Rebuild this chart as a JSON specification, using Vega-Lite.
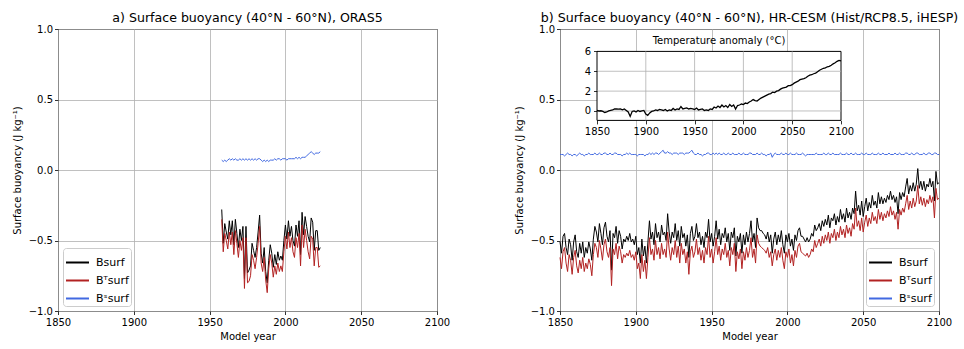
{
"$schema": "https://vega.github.io/schema/vega-lite/v6.json",
"padding": {"left": 11, "top": 11, "right": 0, "bottom": 0},
"bounds": "flush",
"spacing": 123,
"config": {
 "font": "DejaVu Sans",
 "view": {"stroke": "black", "strokeWidth": 1},
 "title": {"fontSize": 12.6, "fontWeight": "normal", "font": "DejaVu Sans", "color": "black", "offset": -0.5, "anchor": "middle"},
 "axis": {"labelFont": "DejaVu Sans", "labelFontSize": 10, "labelColor": "black", "titleFont": "DejaVu Sans", "titleFontSize": 10, "titleFontWeight": "normal", "titleColor": "black", "tickColor": "black", "tickSize": 3.5, "tickWidth": 0.8, "domain": false, "gridColor": "#b0b0b0", "gridWidth": 0.8, "labelPadding": 3, "titlePadding": 4, "labelFlush": false, "labelOverlap": false},
 "axisY": {"labelPadding": 2, "titlePadding": 6},
 "legend": {"symbolType": "stroke", "symbolStrokeWidth": 2, "symbolSize": 529, "labelFont": "DejaVu Sans", "labelFontSize": 11, "labelColor": "black", "strokeColor": "#cccccc", "fillColor": "white", "padding": 2, "cornerRadius": 3, "rowPadding": -5, "offset": 5, "labelOffset": 6}
},
"datasets": {
 "oras": [
{"yr":1958,"T":-0.35,"S":0.07,"B":-0.28},{"yr":1959,"T":-0.58,"S":0.06,"B":-0.52},{"yr":1960,"T":-0.45,"S":0.07,"B":-0.38},{"yr":1961,"T":-0.50,"S":0.06,"B":-0.44},{"yr":1962,"T":-0.56,"S":0.07,"B":-0.49},{"yr":1963,"T":-0.44,"S":0.08,"B":-0.36},{"yr":1964,"T":-0.53,"S":0.07,"B":-0.46},{"yr":1965,"T":-0.44,"S":0.08,"B":-0.36},{"yr":1966,"T":-0.60,"S":0.07,"B":-0.53},{"yr":1967,"T":-0.43,"S":0.08,"B":-0.35},{"yr":1968,"T":-0.52,"S":0.07,"B":-0.45},{"yr":1969,"T":-0.62,"S":0.07,"B":-0.55},{"yr":1970,"T":-0.50,"S":0.08,"B":-0.42},{"yr":1971,"T":-0.57,"S":0.07,"B":-0.50},{"yr":1972,"T":-0.48,"S":0.08,"B":-0.40},{"yr":1973,"T":-0.84,"S":0.07,"B":-0.77},{"yr":1974,"T":-0.48,"S":0.08,"B":-0.40},{"yr":1975,"T":-0.80,"S":0.07,"B":-0.73},{"yr":1976,"T":-0.79,"S":0.08,"B":-0.71},{"yr":1977,"T":-0.75,"S":0.07,"B":-0.68},{"yr":1978,"T":-0.60,"S":0.08,"B":-0.52},{"yr":1979,"T":-0.64,"S":0.07,"B":-0.57},{"yr":1980,"T":-0.70,"S":0.08,"B":-0.62},{"yr":1981,"T":-0.62,"S":0.07,"B":-0.55},{"yr":1982,"T":-0.52,"S":0.08,"B":-0.44},{"yr":1983,"T":-0.40,"S":0.08,"B":-0.32},{"yr":1984,"T":-0.66,"S":0.07,"B":-0.59},{"yr":1985,"T":-0.72,"S":0.06,"B":-0.66},{"yr":1986,"T":-0.62,"S":0.07,"B":-0.55},{"yr":1987,"T":-0.78,"S":0.06,"B":-0.72},{"yr":1988,"T":-0.87,"S":0.07,"B":-0.80},{"yr":1989,"T":-0.70,"S":0.06,"B":-0.64},{"yr":1990,"T":-0.60,"S":0.07,"B":-0.53},{"yr":1991,"T":-0.66,"S":0.07,"B":-0.59},{"yr":1992,"T":-0.76,"S":0.07,"B":-0.69},{"yr":1993,"T":-0.68,"S":0.08,"B":-0.60},{"yr":1994,"T":-0.74,"S":0.07,"B":-0.67},{"yr":1995,"T":-0.66,"S":0.08,"B":-0.58},{"yr":1996,"T":-0.72,"S":0.08,"B":-0.64},{"yr":1997,"T":-0.68,"S":0.07,"B":-0.61},{"yr":1998,"T":-0.72,"S":0.08,"B":-0.64},{"yr":1999,"T":-0.58,"S":0.08,"B":-0.50},{"yr":2000,"T":-0.47,"S":0.08,"B":-0.39},{"yr":2001,"T":-0.56,"S":0.07,"B":-0.49},{"yr":2002,"T":-0.44,"S":0.08,"B":-0.36},{"yr":2003,"T":-0.55,"S":0.08,"B":-0.47},{"yr":2004,"T":-0.48,"S":0.08,"B":-0.40},{"yr":2005,"T":-0.58,"S":0.08,"B":-0.50},{"yr":2006,"T":-0.62,"S":0.08,"B":-0.54},{"yr":2007,"T":-0.48,"S":0.09,"B":-0.39},{"yr":2008,"T":-0.55,"S":0.08,"B":-0.47},{"yr":2009,"T":-0.45,"S":0.09,"B":-0.36},{"yr":2010,"T":-0.68,"S":0.08,"B":-0.60},{"yr":2011,"T":-0.39,"S":0.09,"B":-0.30},{"yr":2012,"T":-0.55,"S":0.09,"B":-0.46},{"yr":2013,"T":-0.42,"S":0.09,"B":-0.33},{"yr":2014,"T":-0.50,"S":0.10,"B":-0.40},{"yr":2015,"T":-0.58,"S":0.11,"B":-0.47},{"yr":2016,"T":-0.63,"S":0.12,"B":-0.51},{"yr":2017,"T":-0.47,"S":0.13,"B":-0.34},{"yr":2018,"T":-0.49,"S":0.12,"B":-0.37},{"yr":2019,"T":-0.68,"S":0.11,"B":-0.57},{"yr":2020,"T":-0.55,"S":0.12,"B":-0.43},{"yr":2021,"T":-0.55,"S":0.12,"B":-0.43},{"yr":2022,"T":-0.69,"S":0.12,"B":-0.57},{"yr":2023,"T":-0.68,"S":0.13,"B":-0.55}
 ],
 "cesm": [
{"yr":1850,"T":-0.62,"S":0.11,"B":-0.51},{"yr":1851,"T":-0.70,"S":0.11,"B":-0.59},{"yr":1852,"T":-0.58,"S":0.11,"B":-0.47},{"yr":1853,"T":-0.55,"S":0.10,"B":-0.45},{"yr":1854,"T":-0.66,"S":0.11,"B":-0.55},{"yr":1855,"T":-0.72,"S":0.12,"B":-0.60},{"yr":1856,"T":-0.60,"S":0.11,"B":-0.49},{"yr":1857,"T":-0.64,"S":0.11,"B":-0.53},{"yr":1858,"T":-0.74,"S":0.10,"B":-0.64},{"yr":1859,"T":-0.62,"S":0.11,"B":-0.51},
{"yr":1860,"T":-0.57,"S":0.11,"B":-0.46},{"yr":1861,"T":-0.68,"S":0.10,"B":-0.58},{"yr":1862,"T":-0.73,"S":0.11,"B":-0.62},{"yr":1863,"T":-0.64,"S":0.12,"B":-0.52},{"yr":1864,"T":-0.70,"S":0.11,"B":-0.59},{"yr":1865,"T":-0.62,"S":0.11,"B":-0.51},{"yr":1866,"T":-0.72,"S":0.10,"B":-0.62},{"yr":1867,"T":-0.66,"S":0.11,"B":-0.55},{"yr":1868,"T":-0.70,"S":0.11,"B":-0.59},{"yr":1869,"T":-0.63,"S":0.12,"B":-0.51},
{"yr":1870,"T":-0.67,"S":0.11,"B":-0.56},{"yr":1871,"T":-0.75,"S":0.11,"B":-0.64},{"yr":1872,"T":-0.60,"S":0.11,"B":-0.49},{"yr":1873,"T":-0.52,"S":0.12,"B":-0.40},{"yr":1874,"T":-0.55,"S":0.11,"B":-0.44},{"yr":1875,"T":-0.62,"S":0.11,"B":-0.51},{"yr":1876,"T":-0.50,"S":0.12,"B":-0.38},{"yr":1877,"T":-0.56,"S":0.11,"B":-0.45},{"yr":1878,"T":-0.64,"S":0.11,"B":-0.53},{"yr":1879,"T":-0.53,"S":0.12,"B":-0.41},
{"yr":1880,"T":-0.49,"S":0.12,"B":-0.37},{"yr":1881,"T":-0.58,"S":0.11,"B":-0.47},{"yr":1882,"T":-0.62,"S":0.11,"B":-0.51},{"yr":1883,"T":-0.55,"S":0.12,"B":-0.43},{"yr":1884,"T":-0.82,"S":0.11,"B":-0.71},{"yr":1885,"T":-0.56,"S":0.11,"B":-0.45},{"yr":1886,"T":-0.60,"S":0.12,"B":-0.48},{"yr":1887,"T":-0.52,"S":0.12,"B":-0.40},{"yr":1888,"T":-0.63,"S":0.11,"B":-0.52},{"yr":1889,"T":-0.54,"S":0.11,"B":-0.43},
{"yr":1890,"T":-0.58,"S":0.11,"B":-0.47},{"yr":1891,"T":-0.66,"S":0.10,"B":-0.56},{"yr":1892,"T":-0.60,"S":0.11,"B":-0.49},{"yr":1893,"T":-0.62,"S":0.11,"B":-0.51},{"yr":1894,"T":-0.59,"S":0.12,"B":-0.47},{"yr":1895,"T":-0.61,"S":0.11,"B":-0.50},{"yr":1896,"T":-0.57,"S":0.12,"B":-0.45},{"yr":1897,"T":-0.62,"S":0.11,"B":-0.51},{"yr":1898,"T":-0.60,"S":0.11,"B":-0.49},{"yr":1899,"T":-0.64,"S":0.11,"B":-0.53},
{"yr":1900,"T":-0.58,"S":0.11,"B":-0.47},{"yr":1901,"T":-0.70,"S":0.10,"B":-0.60},{"yr":1902,"T":-0.66,"S":0.11,"B":-0.55},{"yr":1903,"T":-0.77,"S":0.11,"B":-0.66},{"yr":1904,"T":-0.60,"S":0.11,"B":-0.49},{"yr":1905,"T":-0.72,"S":0.11,"B":-0.61},{"yr":1906,"T":-0.64,"S":0.10,"B":-0.54},{"yr":1907,"T":-0.77,"S":0.11,"B":-0.66},{"yr":1908,"T":-0.62,"S":0.11,"B":-0.51},{"yr":1909,"T":-0.48,"S":0.12,"B":-0.36},
{"yr":1910,"T":-0.60,"S":0.11,"B":-0.49},{"yr":1911,"T":-0.56,"S":0.12,"B":-0.44},{"yr":1912,"T":-0.64,"S":0.11,"B":-0.53},{"yr":1913,"T":-0.50,"S":0.12,"B":-0.38},{"yr":1914,"T":-0.60,"S":0.12,"B":-0.48},{"yr":1915,"T":-0.55,"S":0.11,"B":-0.44},{"yr":1916,"T":-0.63,"S":0.12,"B":-0.51},{"yr":1917,"T":-0.52,"S":0.13,"B":-0.39},{"yr":1918,"T":-0.60,"S":0.14,"B":-0.46},{"yr":1919,"T":-0.56,"S":0.12,"B":-0.44},
{"yr":1920,"T":-0.62,"S":0.12,"B":-0.50},{"yr":1921,"T":-0.44,"S":0.13,"B":-0.31},{"yr":1922,"T":-0.56,"S":0.12,"B":-0.44},{"yr":1923,"T":-0.64,"S":0.12,"B":-0.52},{"yr":1924,"T":-0.55,"S":0.11,"B":-0.44},{"yr":1925,"T":-0.60,"S":0.12,"B":-0.48},{"yr":1926,"T":-0.50,"S":0.12,"B":-0.38},{"yr":1927,"T":-0.62,"S":0.12,"B":-0.50},{"yr":1928,"T":-0.54,"S":0.11,"B":-0.43},{"yr":1929,"T":-0.66,"S":0.12,"B":-0.54},
{"yr":1930,"T":-0.52,"S":0.12,"B":-0.40},{"yr":1931,"T":-0.60,"S":0.12,"B":-0.48},{"yr":1932,"T":-0.56,"S":0.11,"B":-0.45},{"yr":1933,"T":-0.66,"S":0.12,"B":-0.54},{"yr":1934,"T":-0.58,"S":0.12,"B":-0.46},{"yr":1935,"T":-0.74,"S":0.12,"B":-0.62},{"yr":1936,"T":-0.58,"S":0.13,"B":-0.45},{"yr":1937,"T":-0.54,"S":0.14,"B":-0.40},{"yr":1938,"T":-0.62,"S":0.12,"B":-0.50},{"yr":1939,"T":-0.58,"S":0.11,"B":-0.47},
{"yr":1940,"T":-0.49,"S":0.11,"B":-0.38},{"yr":1941,"T":-0.60,"S":0.12,"B":-0.48},{"yr":1942,"T":-0.55,"S":0.11,"B":-0.44},{"yr":1943,"T":-0.64,"S":0.11,"B":-0.53},{"yr":1944,"T":-0.57,"S":0.10,"B":-0.47},{"yr":1945,"T":-0.66,"S":0.11,"B":-0.55},{"yr":1946,"T":-0.55,"S":0.11,"B":-0.44},{"yr":1947,"T":-0.60,"S":0.12,"B":-0.48},{"yr":1948,"T":-0.47,"S":0.12,"B":-0.35},{"yr":1949,"T":-0.62,"S":0.11,"B":-0.51},
{"yr":1950,"T":-0.56,"S":0.11,"B":-0.45},{"yr":1951,"T":-0.66,"S":0.12,"B":-0.54},{"yr":1952,"T":-0.58,"S":0.11,"B":-0.47},{"yr":1953,"T":-0.48,"S":0.12,"B":-0.36},{"yr":1954,"T":-0.60,"S":0.11,"B":-0.49},{"yr":1955,"T":-0.54,"S":0.12,"B":-0.42},{"yr":1956,"T":-0.64,"S":0.11,"B":-0.53},{"yr":1957,"T":-0.56,"S":0.11,"B":-0.45},{"yr":1958,"T":-0.60,"S":0.12,"B":-0.48},{"yr":1959,"T":-0.52,"S":0.11,"B":-0.41},
{"yr":1960,"T":-0.62,"S":0.11,"B":-0.51},{"yr":1961,"T":-0.57,"S":0.12,"B":-0.45},{"yr":1962,"T":-0.68,"S":0.11,"B":-0.57},{"yr":1963,"T":-0.55,"S":0.11,"B":-0.44},{"yr":1964,"T":-0.60,"S":0.12,"B":-0.48},{"yr":1965,"T":-0.52,"S":0.11,"B":-0.41},{"yr":1966,"T":-0.72,"S":0.11,"B":-0.61},{"yr":1967,"T":-0.58,"S":0.11,"B":-0.47},{"yr":1968,"T":-0.63,"S":0.12,"B":-0.51},{"yr":1969,"T":-0.56,"S":0.11,"B":-0.45},
{"yr":1970,"T":-0.70,"S":0.11,"B":-0.59},{"yr":1971,"T":-0.58,"S":0.12,"B":-0.46},{"yr":1972,"T":-0.64,"S":0.11,"B":-0.53},{"yr":1973,"T":-0.55,"S":0.11,"B":-0.44},{"yr":1974,"T":-0.62,"S":0.11,"B":-0.51},{"yr":1975,"T":-0.57,"S":0.12,"B":-0.45},{"yr":1976,"T":-0.48,"S":0.12,"B":-0.36},{"yr":1977,"T":-0.62,"S":0.11,"B":-0.51},{"yr":1978,"T":-0.56,"S":0.11,"B":-0.45},{"yr":1979,"T":-0.66,"S":0.11,"B":-0.55},
{"yr":1980,"T":-0.46,"S":0.12,"B":-0.34},{"yr":1981,"T":-0.52,"S":0.11,"B":-0.41},{"yr":1982,"T":-0.54,"S":0.11,"B":-0.43},{"yr":1983,"T":-0.55,"S":0.12,"B":-0.43},{"yr":1984,"T":-0.56,"S":0.11,"B":-0.45},{"yr":1985,"T":-0.57,"S":0.11,"B":-0.46},{"yr":1986,"T":-0.59,"S":0.10,"B":-0.49},{"yr":1987,"T":-0.55,"S":0.11,"B":-0.44},{"yr":1988,"T":-0.62,"S":0.11,"B":-0.51},{"yr":1989,"T":-0.58,"S":0.12,"B":-0.46},
{"yr":1990,"T":-0.68,"S":0.09,"B":-0.59},{"yr":1991,"T":-0.60,"S":0.11,"B":-0.49},{"yr":1992,"T":-0.56,"S":0.12,"B":-0.44},{"yr":1993,"T":-0.64,"S":0.11,"B":-0.53},{"yr":1994,"T":-0.57,"S":0.11,"B":-0.46},{"yr":1995,"T":-0.62,"S":0.11,"B":-0.51},{"yr":1996,"T":-0.55,"S":0.12,"B":-0.43},{"yr":1997,"T":-0.64,"S":0.11,"B":-0.53},{"yr":1998,"T":-0.70,"S":0.11,"B":-0.59},{"yr":1999,"T":-0.58,"S":0.12,"B":-0.46},
{"yr":2000,"T":-0.62,"S":0.11,"B":-0.51},{"yr":2001,"T":-0.56,"S":0.11,"B":-0.45},{"yr":2002,"T":-0.66,"S":0.12,"B":-0.54},{"yr":2003,"T":-0.60,"S":0.11,"B":-0.49},{"yr":2004,"T":-0.68,"S":0.11,"B":-0.57},{"yr":2005,"T":-0.57,"S":0.11,"B":-0.46},{"yr":2006,"T":-0.62,"S":0.12,"B":-0.50},{"yr":2007,"T":-0.54,"S":0.11,"B":-0.43},{"yr":2008,"T":-0.52,"S":0.11,"B":-0.41},{"yr":2009,"T":-0.58,"S":0.11,"B":-0.47},
{"yr":2010,"T":-0.59,"S":0.12,"B":-0.47},{"yr":2011,"T":-0.60,"S":0.11,"B":-0.49},{"yr":2012,"T":-0.61,"S":0.10,"B":-0.51},{"yr":2013,"T":-0.59,"S":0.11,"B":-0.48},{"yr":2014,"T":-0.62,"S":0.11,"B":-0.51},{"yr":2015,"T":-0.60,"S":0.11,"B":-0.49},{"yr":2016,"T":-0.56,"S":0.11,"B":-0.45},{"yr":2017,"T":-0.58,"S":0.11,"B":-0.47},{"yr":2018,"T":-0.50,"S":0.11,"B":-0.39},{"yr":2019,"T":-0.55,"S":0.12,"B":-0.43},
{"yr":2020,"T":-0.52,"S":0.11,"B":-0.41},{"yr":2021,"T":-0.49,"S":0.11,"B":-0.38},{"yr":2022,"T":-0.54,"S":0.11,"B":-0.43},{"yr":2023,"T":-0.47,"S":0.11,"B":-0.36},{"yr":2024,"T":-0.52,"S":0.12,"B":-0.40},{"yr":2025,"T":-0.46,"S":0.11,"B":-0.35},{"yr":2026,"T":-0.50,"S":0.11,"B":-0.39},{"yr":2027,"T":-0.44,"S":0.12,"B":-0.32},{"yr":2028,"T":-0.52,"S":0.11,"B":-0.41},{"yr":2029,"T":-0.45,"S":0.11,"B":-0.34},
{"yr":2030,"T":-0.48,"S":0.12,"B":-0.36},{"yr":2031,"T":-0.42,"S":0.11,"B":-0.31},{"yr":2032,"T":-0.50,"S":0.11,"B":-0.39},{"yr":2033,"T":-0.44,"S":0.11,"B":-0.33},{"yr":2034,"T":-0.48,"S":0.11,"B":-0.37},{"yr":2035,"T":-0.40,"S":0.12,"B":-0.28},{"yr":2036,"T":-0.46,"S":0.11,"B":-0.35},{"yr":2037,"T":-0.42,"S":0.11,"B":-0.31},{"yr":2038,"T":-0.48,"S":0.11,"B":-0.37},{"yr":2039,"T":-0.39,"S":0.12,"B":-0.27},
{"yr":2040,"T":-0.45,"S":0.11,"B":-0.34},{"yr":2041,"T":-0.41,"S":0.11,"B":-0.30},{"yr":2042,"T":-0.47,"S":0.12,"B":-0.35},{"yr":2043,"T":-0.38,"S":0.11,"B":-0.27},{"yr":2044,"T":-0.42,"S":0.11,"B":-0.31},{"yr":2045,"T":-0.27,"S":0.12,"B":-0.15},{"yr":2046,"T":-0.40,"S":0.11,"B":-0.29},{"yr":2047,"T":-0.36,"S":0.11,"B":-0.25},{"yr":2048,"T":-0.43,"S":0.11,"B":-0.32},{"yr":2049,"T":-0.34,"S":0.12,"B":-0.22},
{"yr":2050,"T":-0.44,"S":0.11,"B":-0.33},{"yr":2051,"T":-0.37,"S":0.11,"B":-0.26},{"yr":2052,"T":-0.32,"S":0.12,"B":-0.20},{"yr":2053,"T":-0.40,"S":0.11,"B":-0.29},{"yr":2054,"T":-0.34,"S":0.11,"B":-0.23},{"yr":2055,"T":-0.38,"S":0.11,"B":-0.27},{"yr":2056,"T":-0.30,"S":0.12,"B":-0.18},{"yr":2057,"T":-0.36,"S":0.11,"B":-0.25},{"yr":2058,"T":-0.33,"S":0.11,"B":-0.22},{"yr":2059,"T":-0.38,"S":0.11,"B":-0.27},
{"yr":2060,"T":-0.28,"S":0.12,"B":-0.16},{"yr":2061,"T":-0.35,"S":0.11,"B":-0.24},{"yr":2062,"T":-0.30,"S":0.11,"B":-0.19},{"yr":2063,"T":-0.36,"S":0.12,"B":-0.24},{"yr":2064,"T":-0.31,"S":0.11,"B":-0.20},{"yr":2065,"T":-0.34,"S":0.11,"B":-0.23},{"yr":2066,"T":-0.29,"S":0.11,"B":-0.18},{"yr":2067,"T":-0.33,"S":0.12,"B":-0.21},{"yr":2068,"T":-0.26,"S":0.11,"B":-0.15},{"yr":2069,"T":-0.32,"S":0.11,"B":-0.21},
{"yr":2070,"T":-0.29,"S":0.11,"B":-0.18},{"yr":2071,"T":-0.35,"S":0.12,"B":-0.23},{"yr":2072,"T":-0.30,"S":0.11,"B":-0.19},{"yr":2073,"T":-0.42,"S":0.11,"B":-0.31},{"yr":2074,"T":-0.28,"S":0.12,"B":-0.16},{"yr":2075,"T":-0.32,"S":0.11,"B":-0.21},{"yr":2076,"T":-0.27,"S":0.11,"B":-0.16},{"yr":2077,"T":-0.30,"S":0.11,"B":-0.19},{"yr":2078,"T":-0.24,"S":0.12,"B":-0.12},{"yr":2079,"T":-0.18,"S":0.12,"B":-0.06},
{"yr":2080,"T":-0.28,"S":0.11,"B":-0.17},{"yr":2081,"T":-0.22,"S":0.11,"B":-0.11},{"yr":2082,"T":-0.27,"S":0.12,"B":-0.15},{"yr":2083,"T":-0.20,"S":0.11,"B":-0.09},{"yr":2084,"T":-0.26,"S":0.11,"B":-0.15},{"yr":2085,"T":-0.22,"S":0.12,"B":-0.10},{"yr":2086,"T":-0.11,"S":0.12,"B":0.01},{"yr":2087,"T":-0.24,"S":0.11,"B":-0.13},{"yr":2088,"T":-0.19,"S":0.11,"B":-0.08},{"yr":2089,"T":-0.25,"S":0.11,"B":-0.14},
{"yr":2090,"T":-0.20,"S":0.12,"B":-0.08},{"yr":2091,"T":-0.26,"S":0.11,"B":-0.15},{"yr":2092,"T":-0.21,"S":0.11,"B":-0.10},{"yr":2093,"T":-0.24,"S":0.12,"B":-0.12},{"yr":2094,"T":-0.18,"S":0.12,"B":-0.06},{"yr":2095,"T":-0.23,"S":0.11,"B":-0.12},{"yr":2096,"T":-0.19,"S":0.11,"B":-0.08},{"yr":2097,"T":-0.34,"S":0.12,"B":-0.22},{"yr":2098,"T":-0.13,"S":0.12,"B":-0.01},{"yr":2099,"T":-0.21,"S":0.11,"B":-0.10},{"yr":2100,"T":-0.20,"S":0.11,"B":-0.09}
 ],
 "temp": [
{"yr":1850,"v":0.05},{"yr":1852,"v":0.0},{"yr":1854,"v":0.02},{"yr":1856,"v":-0.05},{"yr":1858,"v":-0.15},{"yr":1860,"v":-0.1},{"yr":1862,"v":0.0},{"yr":1864,"v":0.05},{"yr":1866,"v":0.1},{"yr":1868,"v":0.2},{"yr":1870,"v":0.22},{"yr":1872,"v":0.18},{"yr":1874,"v":0.2},{"yr":1876,"v":0.12},{"yr":1878,"v":0.2},{"yr":1880,"v":0.05},{"yr":1882,"v":-0.1},{"yr":1884,"v":-0.55},{"yr":1886,"v":-0.05},{"yr":1888,"v":0.0},{"yr":1890,"v":-0.1},{"yr":1892,"v":0.05},{"yr":1894,"v":-0.05},{"yr":1896,"v":0.0},{"yr":1898,"v":0.05},{"yr":1900,"v":-0.3},{"yr":1902,"v":-0.45},{"yr":1904,"v":-0.2},{"yr":1906,"v":-0.05},{"yr":1908,"v":0.0},{"yr":1910,"v":0.1},{"yr":1912,"v":0.05},{"yr":1914,"v":0.15},{"yr":1916,"v":0.1},{"yr":1918,"v":0.05},{"yr":1920,"v":0.15},{"yr":1922,"v":0.0},{"yr":1924,"v":0.1},{"yr":1926,"v":0.05},{"yr":1928,"v":0.25},{"yr":1930,"v":0.1},{"yr":1932,"v":0.2},{"yr":1934,"v":0.15},{"yr":1936,"v":0.45},{"yr":1938,"v":0.2},{"yr":1940,"v":0.25},{"yr":1942,"v":0.3},{"yr":1944,"v":0.2},{"yr":1946,"v":0.25},{"yr":1948,"v":0.2},{"yr":1950,"v":0.15},{"yr":1952,"v":0.3},{"yr":1954,"v":0.1},{"yr":1956,"v":0.15},{"yr":1958,"v":0.2},{"yr":1960,"v":0.05},{"yr":1962,"v":0.1},{"yr":1964,"v":0.05},{"yr":1966,"v":0.2},{"yr":1968,"v":0.15},{"yr":1970,"v":0.4},{"yr":1972,"v":0.3},{"yr":1974,"v":0.5},{"yr":1976,"v":0.35},{"yr":1978,"v":0.6},{"yr":1980,"v":0.4},{"yr":1982,"v":0.55},{"yr":1984,"v":0.35},{"yr":1986,"v":0.65},{"yr":1988,"v":0.45},{"yr":1990,"v":0.6},{"yr":1992,"v":0.2},{"yr":1994,"v":0.55},{"yr":1996,"v":0.6},{"yr":1998,"v":0.7},{"yr":2000,"v":0.65},{"yr":2002,"v":0.8},{"yr":2004,"v":0.75},{"yr":2006,"v":0.9},{"yr":2008,"v":1.0},{"yr":2010,"v":1.15},{"yr":2012,"v":1.05},{"yr":2014,"v":1.0},{"yr":2016,"v":1.15},{"yr":2018,"v":1.3},{"yr":2020,"v":1.4},{"yr":2022,"v":1.5},{"yr":2024,"v":1.6},{"yr":2026,"v":1.7},{"yr":2028,"v":1.75},{"yr":2030,"v":1.9},{"yr":2032,"v":1.85},{"yr":2034,"v":2.0},{"yr":2036,"v":2.05},{"yr":2038,"v":2.2},{"yr":2040,"v":2.3},{"yr":2042,"v":2.35},{"yr":2044,"v":2.4},{"yr":2046,"v":2.55},{"yr":2048,"v":2.55},{"yr":2050,"v":2.65},{"yr":2052,"v":2.8},{"yr":2054,"v":2.9},{"yr":2056,"v":3.0},{"yr":2058,"v":3.15},{"yr":2060,"v":3.2},{"yr":2062,"v":3.25},{"yr":2064,"v":3.35},{"yr":2066,"v":3.5},{"yr":2068,"v":3.6},{"yr":2070,"v":3.65},{"yr":2072,"v":3.75},{"yr":2074,"v":3.8},{"yr":2076,"v":3.95},{"yr":2078,"v":4.1},{"yr":2080,"v":4.2},{"yr":2082,"v":4.3},{"yr":2084,"v":4.35},{"yr":2086,"v":4.45},{"yr":2088,"v":4.5},{"yr":2090,"v":4.6},{"yr":2092,"v":4.75},{"yr":2094,"v":4.85},{"yr":2096,"v":5.0},{"yr":2098,"v":5.1},{"yr":2100,"v":5.05}
 ],
 "igx": [{"g": 1900}, {"g": 1950}, {"g": 2000}, {"g": 2050}],
 "igy": [{"g": 0}, {"g": 2}, {"g": 4}],
 "one": [{"label": "Temperature anomaly (°C)"}]
},
"resolve": {"scale": {"color": "independent"}, "legend": {"color": "independent"}},
"hconcat": [
 {
  "title": "a) Surface buoyancy (40°N - 60°N), ORAS5",
  "width": 379, "height": 282,
  "data": {"name": "oras"},
  "transform": [{"fold": ["B", "T", "S"], "as": ["series", "value"]}],
  "mark": {"type": "line", "strokeWidth": 1},
  "encoding": {
   "x": {"field": "yr", "type": "quantitative", "scale": {"domain": [1850, 2100], "nice": false, "zero": false}, "axis": {"values": [1850, 1900, 1950, 2000, 2050, 2100], "format": "d", "title": "Model year"}},
   "y": {"field": "value", "type": "quantitative", "scale": {"domain": [-1, 1], "nice": false}, "axis": {"values": [-1, -0.5, 0, 0.5, 1], "format": ".1f", "title": "Surface buoyancy (J kg⁻¹)"}},
   "color": {"field": "series", "type": "nominal", "scale": {"domain": ["B", "T", "S"], "range": ["#000000", "#b22222", "#4169e1"]}, "legend": {"orient": "bottom-left", "title": null, "labelExpr": "datum.value == 'B' ? 'Bsurf' : datum.value == 'T' ? 'Bᵀsurf' : 'Bˢsurf'"}}
  }
 },
 {
  "title": "b) Surface buoyancy (40°N - 60°N), HR-CESM (Hist/RCP8.5, iHESP)",
  "width": 379, "height": 282,
  "layer": [
   {
    "data": {"name": "cesm"},
    "transform": [{"fold": ["B", "T", "S"], "as": ["series", "value"]}],
    "mark": {"type": "line", "strokeWidth": 1},
    "encoding": {
     "x": {"field": "yr", "type": "quantitative", "scale": {"domain": [1850, 2100], "nice": false, "zero": false}, "axis": {"values": [1850, 1900, 1950, 2000, 2050, 2100], "format": "d", "title": "Model year"}},
     "y": {"field": "value", "type": "quantitative", "scale": {"domain": [-1, 1], "nice": false}, "axis": {"values": [-1, -0.5, 0, 0.5, 1], "format": ".1f", "title": "Surface buoyancy (J kg⁻¹)"}},
     "color": {"field": "series", "type": "nominal", "scale": {"domain": ["B", "T", "S"], "range": ["#000000", "#b22222", "#4169e1"]}, "legend": {"orient": "bottom-right", "title": null, "labelExpr": "datum.value == 'B' ? 'Bsurf' : datum.value == 'T' ? 'Bᵀsurf' : 'Bˢsurf'"}}
    }
   },
   {
    "layer": [
     {
      "data": {"name": "one"},
      "mark": {"type": "rect", "fill": "white", "stroke": "black", "strokeWidth": 1},
      "encoding": {
       "x": {"datum": 1850, "type": "quantitative", "scale": {"domain": [1850, 2100], "range": [37, 281], "nice": false, "zero": false}, "axis": {"orient": "bottom", "offset": -190.6, "values": [1850, 1900, 1950, 2000, 2050, 2100], "format": "d", "title": null, "grid": false, "zindex": 1}},
       "x2": {"datum": 2100},
       "y": {"datum": -0.95, "type": "quantitative", "scale": {"domain": [-0.95, 6], "range": [91.4, 22.4], "nice": false, "zero": false}, "axis": {"orient": "left", "offset": -37, "values": [0, 2, 4, 6], "format": "d", "title": null, "grid": false, "zindex": 1, "labelPadding": 3}},
       "y2": {"datum": 6}
      }
     },
     {
      "data": {"name": "igx"},
      "mark": {"type": "rule", "color": "#b0b0b0", "strokeWidth": 0.8},
      "encoding": {
       "x": {"field": "g", "type": "quantitative", "scale": {"domain": [1850, 2100], "range": [37, 281], "nice": false, "zero": false}, "axis": {"orient": "bottom", "offset": -190.6, "values": [1850, 1900, 1950, 2000, 2050, 2100], "format": "d", "title": null, "grid": false, "zindex": 1}},
       "y": {"datum": -0.95, "type": "quantitative", "scale": {"domain": [-0.95, 6], "range": [91.4, 22.4], "nice": false, "zero": false}, "axis": {"orient": "left", "offset": -37, "values": [0, 2, 4, 6], "format": "d", "title": null, "grid": false, "zindex": 1, "labelPadding": 3}},
       "y2": {"datum": 6}
      }
     },
     {
      "data": {"name": "igy"},
      "mark": {"type": "rule", "color": "#b0b0b0", "strokeWidth": 0.8},
      "encoding": {
       "y": {"field": "g", "type": "quantitative", "scale": {"domain": [-0.95, 6], "range": [91.4, 22.4], "nice": false, "zero": false}, "axis": {"orient": "left", "offset": -37, "values": [0, 2, 4, 6], "format": "d", "title": null, "grid": false, "zindex": 1, "labelPadding": 3}},
       "x": {"datum": 1850, "type": "quantitative", "scale": {"domain": [1850, 2100], "range": [37, 281], "nice": false, "zero": false}, "axis": {"orient": "bottom", "offset": -190.6, "values": [1850, 1900, 1950, 2000, 2050, 2100], "format": "d", "title": null, "grid": false, "zindex": 1}},
       "x2": {"datum": 2100}
      }
     },
     {
      "data": {"name": "temp"},
      "mark": {"type": "line", "color": "black", "strokeWidth": 1.3},
      "encoding": {
       "x": {"field": "yr", "type": "quantitative", "scale": {"domain": [1850, 2100], "range": [37, 281], "nice": false, "zero": false}, "axis": {"orient": "bottom", "offset": -190.6, "values": [1850, 1900, 1950, 2000, 2050, 2100], "format": "d", "title": null, "grid": false, "zindex": 1}},
       "y": {"field": "v", "type": "quantitative", "scale": {"domain": [-0.95, 6], "range": [91.4, 22.4], "nice": false, "zero": false}, "axis": {"orient": "left", "offset": -37, "values": [0, 2, 4, 6], "format": "d", "title": null, "grid": false, "zindex": 1, "labelPadding": 3}}
      }
     },
     {
      "data": {"name": "one"},
      "mark": {"type": "text", "fontSize": 10, "baseline": "alphabetic", "align": "center", "dy": -7, "font": "DejaVu Sans", "color": "black"},
      "encoding": {
       "text": {"field": "label"},
       "x": {"datum": 1975, "type": "quantitative", "scale": {"domain": [1850, 2100], "range": [37, 281], "nice": false, "zero": false}},
       "y": {"datum": 6, "type": "quantitative", "scale": {"domain": [-0.95, 6], "range": [91.4, 22.4], "nice": false, "zero": false}}
      }
     }
    ]
   }
  ],
  "resolve": {"scale": {"x": "independent", "y": "independent"}, "axis": {"x": "independent", "y": "independent"}}
 }
]
}
